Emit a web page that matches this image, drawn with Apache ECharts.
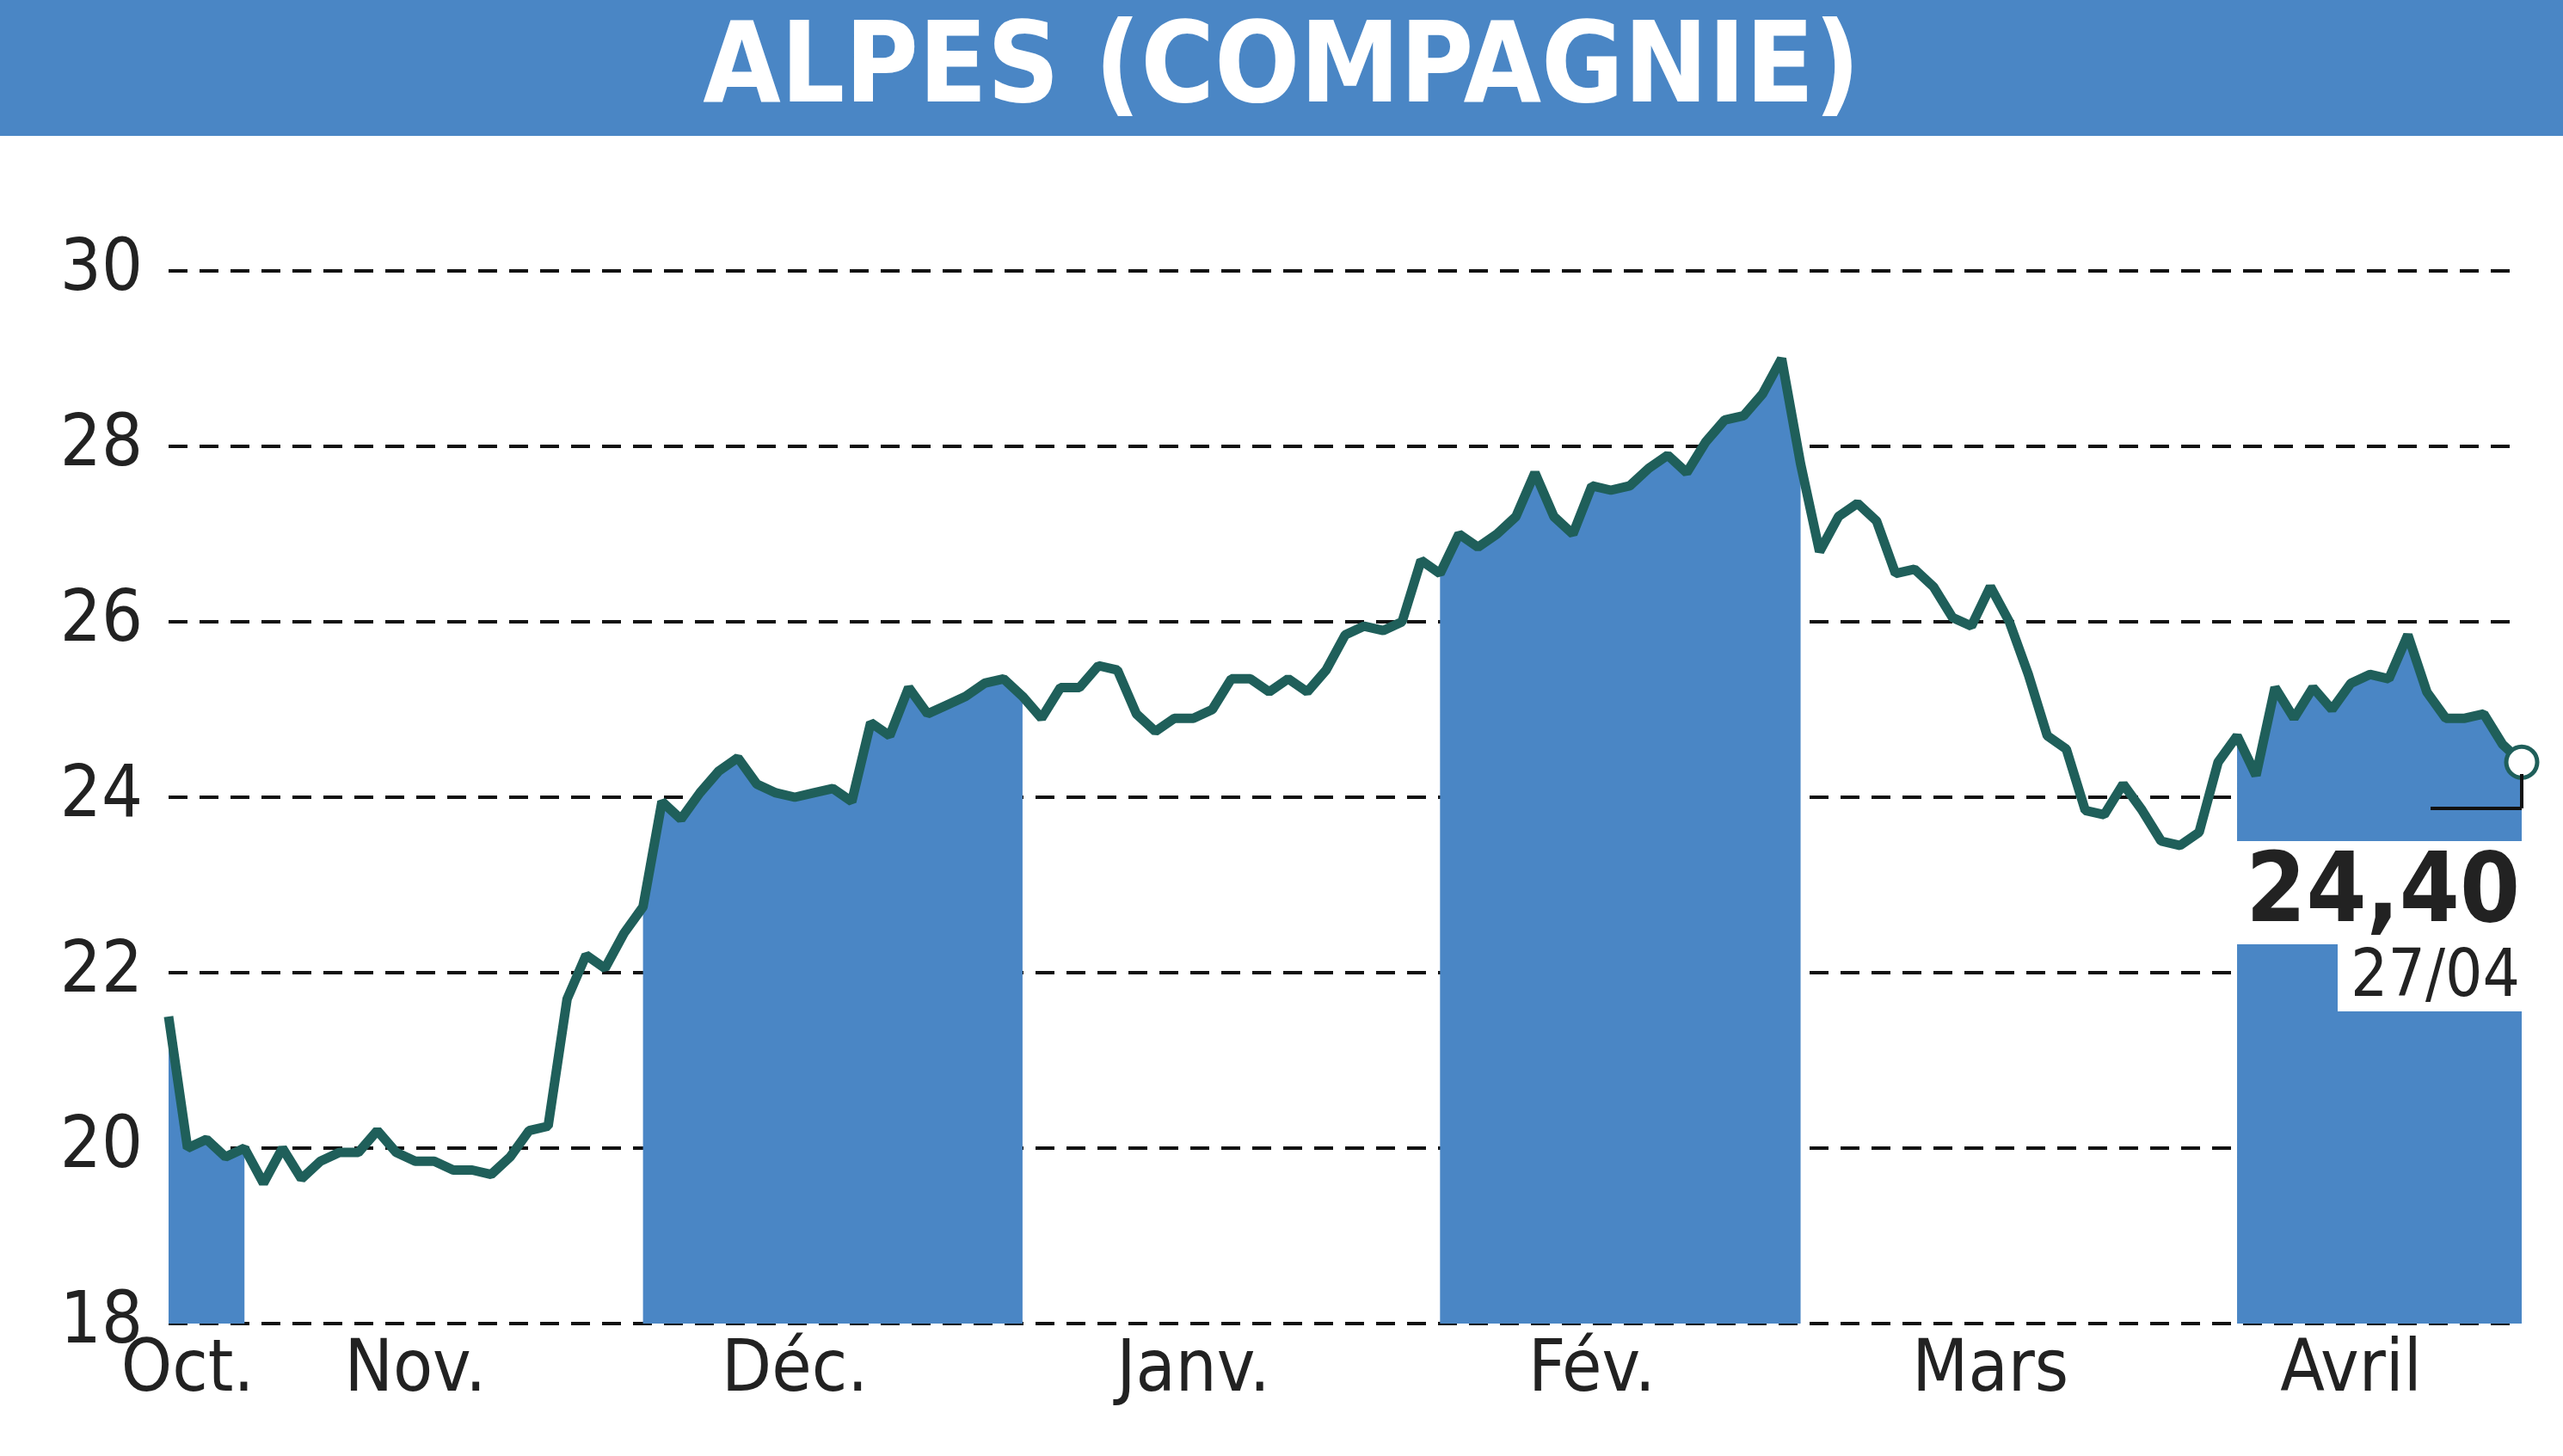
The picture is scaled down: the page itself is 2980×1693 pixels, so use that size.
<!DOCTYPE html>
<html><head><meta charset="utf-8">
<script src="https://cdn.jsdelivr.net/npm/echarts@6/dist/echarts.min.js"></script>
<style>html,body{margin:0;padding:0;background:#fff}#c{width:2980px;height:1693px}</style>
</head><body><div id="c"></div>
<script>
const title = 'ALPES (COMPAGNIE)';
const monthLabels = ['Oct.', 'Nov.', 'Déc.', 'Janv.', 'Fév.', 'Mars', 'Avril'];
const oct = [21.5, 20.0, 20.1, 19.9, 20.0];
const nov = [19.6, 20.0, 19.65, 19.85, 19.95, 19.95, 20.2, 19.95, 19.85, 19.85, 19.75, 19.75, 19.7, 19.9, 20.2, 20.25, 21.7, 22.2, 22.05, 22.45];
const dec = [22.75, 23.95, 23.75, 24.05, 24.3, 24.45, 24.15, 24.05, 24.0, 24.05, 24.1, 23.95, 24.85, 24.7, 25.25, 24.95, 25.05, 25.15, 25.3, 25.35, 25.15];
const jan = [24.9, 25.25, 25.25, 25.5, 25.45, 24.95, 24.75, 24.9, 24.9, 25.0, 25.35, 25.35, 25.2, 25.35, 25.2, 25.45, 25.85, 25.95, 25.9, 26.0, 26.7];
const feb = [26.55, 27.0, 26.85, 27.0, 27.2, 27.7, 27.2, 27.0, 27.55, 27.5, 27.55, 27.75, 27.9, 27.7, 28.05, 28.3, 28.35, 28.6, 29.0, 27.8];
const mar = [26.8, 27.2, 27.35, 27.15, 26.55, 26.6, 26.4, 26.05, 25.95, 26.4, 26.0, 25.4, 24.7, 24.55, 23.85, 23.8, 24.15, 23.85, 23.5, 23.45, 23.6, 24.4];
const apr = [24.7, 24.25, 25.25, 24.9, 25.25, 25.0, 25.3, 25.4, 25.35, 25.85, 25.2, 24.9, 24.9, 24.95, 24.6, 24.4];
const yTicks = [18, 20, 22, 24, 26, 28, 30];
const lastLabel = '24,40';
const lastDate = '27/04';

const months = [oct, nov, dec, jan, feb, mar, apr];
const values = [], cats = [], fill = [], labelAt = {};
months.forEach((m, mi) => {
  const start = values.length;
  m.forEach((v, i) => {
    values.push(v); cats.push(mi + '-' + i);
    fill.push(mi % 2 === 0 ? v : '-');
  });
  labelAt[mi === 0 ? start + 1 : start + Math.floor(m.length / 2) - 2] = monthLabels[mi];
});
const n = values.length;
const ff = '"DejaVu Sans Condensed","Liberation Sans Narrow",sans-serif';
const chart = echarts.init(document.getElementById('c'));
chart.setOption({
  animation: false,
  grid: {left: 196, right: 48, top: 315, bottom: 154},
  xAxis: {type: 'category', data: cats, boundaryGap: false,
    axisLine: {show: false}, axisTick: {show: false}, splitLine: {show: false},
    axisLabel: {interval: 0, formatter: (v, i) => labelAt[i] || '', color: '#222',
      fontFamily: ff, fontSize: 84, margin: 14}},
  yAxis: {type: 'value', min: 18, max: 30, interval: 2,
    axisLine: {show: false}, axisTick: {show: false},
    axisLabel: {formatter: v => yTicks.includes(v) ? String(v) : '', color: '#222', fontFamily: ff, fontSize: 84, margin: 30},
    splitLine: {lineStyle: {color: '#111', type: [22, 14], width: 4}}},
  series: [
    {type: 'line', data: fill, symbol: 'none', lineStyle: {width: 0}, areaStyle: {color: '#4a86c5', opacity: 1}, z: 1},
    {type: 'line', data: values, symbol: 'none', lineStyle: {color: '#1f5f5a', width: 11}, z: 3,
      markPoint: {symbol: 'circle', symbolSize: 36, itemStyle: {color: '#fff', borderColor: '#1f5f5a', borderWidth: 5},
        label: {show: false}, data: [{coord: [n - 1, values[n - 1]]}]}}
  ],
  graphic: [
    {type: 'rect', shape: {x: 0, y: 0, width: 2980, height: 158}, style: {fill: '#4a86c5'}},
    {type: 'text', x: 1490, y: 84, style: {text: title, fill: '#fff', font: 'bold 130px ' + ff, align: 'center', verticalAlign: 'middle'}},
    {type: 'rect', shape: {x: 2594, y: 978, width: 342, height: 120}, style: {fill: '#fff'}, z: 10},
    {type: 'rect', shape: {x: 2718, y: 1098, width: 218, height: 78}, style: {fill: '#fff'}, z: 10},
    {type: 'line', shape: {x1: 2826, y1: 940, x2: 2932, y2: 940}, style: {stroke: '#111', lineWidth: 4}, z: 10},
    {type: 'line', shape: {x1: 2932, y1: 940, x2: 2932, y2: 900}, style: {stroke: '#111', lineWidth: 4}, z: 10},
    {type: 'text', x: 2930, y: 1042, style: {text: lastLabel, fill: '#222', font: 'bold 112px ' + ff, align: 'right', verticalAlign: 'middle'}, z: 11},
    {type: 'text', x: 2930, y: 1138, style: {text: lastDate, fill: '#222', font: '76px ' + ff, align: 'right', verticalAlign: 'middle'}, z: 11}
  ]
});
</script></body></html>
